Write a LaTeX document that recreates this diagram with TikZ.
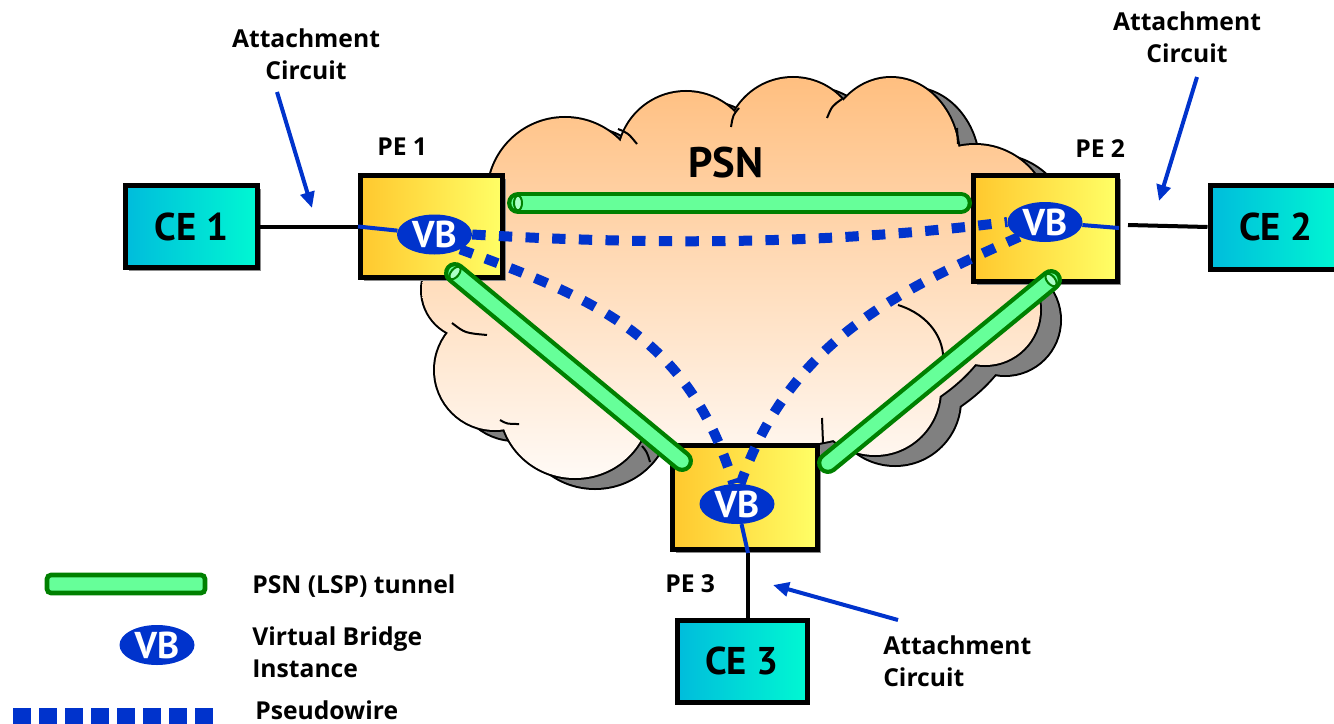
\documentclass[tikz,border=0pt]{standalone}
\usepackage{fontspec}
\setmainfont{PT Sans}
\newfontfamily\osans{Open Sans}
\usetikzlibrary{shapes.geometric,shadows,arrows.meta}
\definecolor{pwblue}{HTML}{0033CC}
\definecolor{tunD}{HTML}{008000}
\definecolor{tunL}{HTML}{66FF99}
\definecolor{peachT}{HTML}{FFBF80}
\definecolor{peachB}{HTML}{FFFAF6}
\definecolor{peL}{HTML}{FFC82E}
\definecolor{peR}{HTML}{FFFF66}
\definecolor{ceL}{HTML}{00BCDC}
\definecolor{ceR}{HTML}{00F8D2}
\definecolor{shadowgray}{HTML}{808080}
\pgfdeclarelayer{back}
\pgfdeclarelayer{mid}
\pgfsetlayers{back,mid,main}
\newcommand{\cloudpath}{%
  (565,195) circle[radius=77]
  (686,160) circle[radius=68]
  (793,145) circle[radius=67]
  (891,158) ellipse[x radius=68, y radius=80]
  (975,220) circle[radius=75]
  (985,310) circle[radius=55]
  (875,390) circle[radius=65]
  (760,390) circle[radius=70]
  (575,405) ellipse[x radius=75, y radius=73]
  (495,370) circle[radius=60]
  (470,290) circle[radius=48]
  (740,300) ellipse[x radius=260, y radius=150]}
\begin{document}
\begin{tikzpicture}[x=0.75pt,y=-0.75pt,
  box/.style={draw=black, line width=3.75pt, inner sep=0pt,
    drop shadow={shadow xshift=2.5pt,shadow yshift=-2.5pt,fill=black!45,opacity=1}},
  pebox/.style={box, left color=peL, right color=peR},
  cebox/.style={box, left color=ceL, right color=ceR, font=\fontsize{29}{30}\selectfont\bfseries},
  vbnode/.style={ellipse, fill=pwblue, text=white, minimum width=56.25pt, minimum height=30pt,
    inner sep=0pt, font=\fontsize{28}{28}\selectfont\bfseries},
  txt/.style={font=\osans\fontsize{18.5}{24}\selectfont\bfseries, inner sep=0pt},
  pw/.style={draw=pwblue, line width=7.5pt, dash pattern=on 10pt off 10pt},
  tunout/.style={draw=tunD, line width=16.5pt, line cap=round},
  tunin/.style={draw=tunL, line width=10pt, line cap=round},
  tunend/.style={ellipse, draw=tunD, fill=tunL!55!white, line width=1.5pt, inner sep=0pt,
    minimum width=6pt, minimum height=11pt},
  acarrow/.style={draw=pwblue, line width=3pt, -{Triangle[length=12pt,width=10.5pt]}},
  acline/.style={draw=black, line width=3pt},
  vbline/.style={draw=pwblue, line width=3pt},
  cloudline/.style={draw=black, line width=1.5pt}]
\useasboundingbox (0,0) rectangle (1334,724);

% Virtual bridge instances (main layer)
\node[vbnode] (vb1) at (434.5,234.5) {VB};
\node[vbnode] (vb2) at (1045,222) {VB};
\node[vbnode] (vb3) at (737,504) {VB};

% Cloud
\begin{pgfonlayer}{back}
  \begin{scope}[shift={(20,10)}]
    \draw[black, line width=3pt] \cloudpath;
    \fill[shadowgray] \cloudpath;
  \end{scope}
  \draw[black, line width=3pt] \cloudpath;
  \shade[top color=peachT, bottom color=peachB] \cloudpath;
  \draw[cloudline] (618,129) .. controls (628,133) .. (637,144);
  \draw[cloudline] (739,108) .. controls (733,115) .. (731,127);
  \draw[cloudline] (842,99) .. controls (832,106) .. (827,118);
  \draw[cloudline] (957,128) -- (958,144);
  \draw[cloudline] (452,323) .. controls (465,333) .. (487,335);
  \draw[cloudline] (500,420) .. controls (507,424) .. (519,424);
  \draw[cloudline] (822,418) -- (823,443);
  \draw[cloudline] (642,446) .. controls (647,452) .. (650,462);
  \draw[cloudline] (898,305) .. controls (930,315) and (945,340) .. (943,362);
\end{pgfonlayer}

\begin{pgfonlayer}{mid}
  % boxes
  \node[pebox, minimum width=106.5pt, minimum height=76.5pt] (pe1) at (431.5,226.5) {};
  \node[pebox, minimum width=108pt, minimum height=79.5pt] (pe2) at (1045.5,228.5) {};
  \node[pebox, minimum width=108.75pt, minimum height=78pt] (pe3) at (745,497.5) {};
  \node[cebox, minimum width=99pt, minimum height=61.5pt] (ce1) at (191.5,226.5) {CE 1};
  \node[cebox, minimum width=99pt, minimum height=63pt] (ce2) at (1276,227) {CE 2};
  \node[cebox, minimum width=97.5pt, minimum height=61.5pt] (ce3) at (742,661) {CE 3};
  % attachment circuit lines
  \draw[acline] (ce1.east) -- (pe1.west);
  \coordinate (p2out) at (1128,225);
  \draw[acline] (p2out) -- (ce2.west);
  \coordinate (p3out) at (748,553);
  \draw[acline] (p3out) -- (p3out |- ce3.north);
  % tunnels
  \coordinate (t1a) at (518,203); \coordinate (t1b) at (961,203);
  \coordinate (t2a) at (455,273); \coordinate (t2b) at (682,461);
  \coordinate (t3a) at (1051,280); \coordinate (t3b) at (828,463);
  \foreach \a/\b in {t1a/t1b,t2a/t2b,t3a/t3b}{
    \draw[tunout] (\a) -- (\b);
    \draw[tunin] (\a) -- (\b);
  }
  \node[tunend] (e1) at (t1a) {};
  \node[tunend, rotate=-39.6] (e2) at (t2a) {};
  \node[tunend, rotate=39.4] (e3) at (t3a) {};
  % pseudowires
  \draw[pw] (vb1.east) .. controls (650,245) and (830,245) .. (vb2.west);
  \draw[pw] (vb1.-30) .. controls (600,300) and (690,340) .. (vb3.100);
  \draw[pw] (vb2.-150) .. controls (900,290) and (790,340) .. (vb3.80);
\end{pgfonlayer}

% blue lines inside PEs
\draw[vbline] (pe1.west) -- (vb1);
\coordinate (p2in) at (1119,228);
\draw[vbline] (vb2) -- (p2in);
\draw[vbline] (vb3) -- (p3out);

% labels
\node[font=\fontsize{32}{32}\selectfont\bfseries, inner sep=0pt] (psn) at (726,163) {PSN};
\node[txt, anchor=base west] (pe1l) at (377,155) {PE 1};
\node[txt, anchor=base west] (pe2l) at (1075,157) {PE 2};
\node[txt, anchor=base west] (pe3l) at (665,592) {PE 3};

\node[txt, align=center, anchor=north] (ac1) at (306,28) {Attachment\\Circuit};
\node[txt, align=center, anchor=north] (ac2) at (1187,11) {Attachment\\Circuit};
\node[txt, align=left, anchor=north west] (ac3) at (883,635) {Attachment\\Circuit};
\coordinate (a1s) at (277,92);  \coordinate (a1t) at (312,208);
\coordinate (a2s) at (1197,77); \coordinate (a2t) at (1159,201);
\coordinate (a3s) at (898,620); \coordinate (a3t) at (773,585);
\draw[acarrow] (a1s) -- (a1t);
\draw[acarrow] (a2s) -- (a2t);
\draw[acarrow] (a3s) -- (a3t);

% legend
\draw[draw=tunD, fill=tunL, line width=3.5pt, rounded corners=3pt] (47,575) rectangle (205,593);
\node[txt, anchor=base west] (lg1) at (252,593) {PSN (LSP) tunnel};
\node[vbnode] (vbl) at (157,645) {VB};
\node[txt, align=left, anchor=north west] (lg2) at (252,626) {Virtual Bridge\\Instance};
\coordinate (lpa) at (13,716); \coordinate (lpb) at (217,716);
\draw[pw, line width=12pt, dash pattern=on 13.5pt off 6pt] (lpa) -- (lpb);
\node[txt, anchor=base west] (lg3) at (255,719) {Pseudowire};
\end{tikzpicture}
\end{document}
